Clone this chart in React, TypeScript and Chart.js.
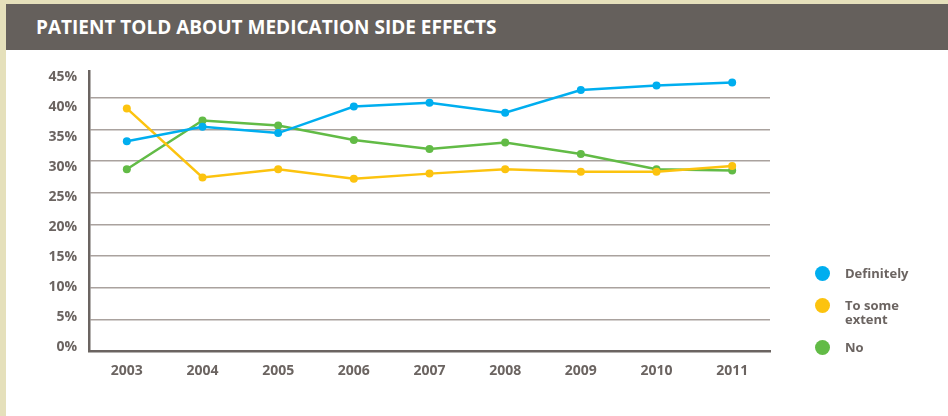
import React, { useEffect, useRef } from "react";
import { Chart, registerables } from "chart.js";

Chart.register(...registerables);

const title = "PATIENT TOLD ABOUT MEDICATION SIDE EFFECTS";
const years = ["2003", "2004", "2005", "2006", "2007", "2008", "2009", "2010", "2011"];
const definitely = [33.1, 35.4, 34.4, 38.6, 39.2, 37.6, 41.2, 41.9, 42.4];
const toSomeExtent = [38.3, 27.4, 28.7, 27.2, 28.0, 28.7, 28.3, 28.3, 29.2];
const no = [28.7, 36.4, 35.6, 33.3, 31.9, 32.9, 31.1, 28.7, 28.5];
const gridValues = [0, 5, 10, 15, 20, 25, 30, 35, 40];
const yTickLabels = [0, 5, 10, 15, 20, 25, 30, 35, 40, 45];
const seriesNames = ["Definitely", "To some extent", "No"];
const legendLines = [["Definitely"], ["To some", "extent"], ["No"]];
const seriesColors = ["#00aeef", "#fcc30f", "#62bb46"];

const TEXT = "#6b6461";
const FONT = "'Open Sans', 'DejaVu Sans', sans-serif";

export default function App() {
  const canvasRef = useRef<HTMLCanvasElement | null>(null);

  useEffect(() => {
    const ctx = canvasRef.current;
    if (!ctx) return;
    const seriesData = [definitely, toSomeExtent, no];
    const chart = new Chart(ctx, {
      type: "line",
      data: {
        labels: years,
        datasets: seriesNames.map((name, i) => ({
          label: name,
          data: seriesData[i],
          borderColor: seriesColors[i],
          backgroundColor: seriesColors[i],
          pointBackgroundColor: seriesColors[i],
          pointBorderWidth: 0,
          pointRadius: 4,
          borderWidth: 2.5,
          tension: 0,
          fill: false,
          yAxisID: "y",
        })),
      },
      options: {
        responsive: false,
        animation: false,
        devicePixelRatio: 1,
        layout: { padding: { left: 0, right: 178, top: 71, bottom: 25 } },
        plugins: {
          legend: { display: false },
          tooltip: { enabled: false },
          title: { display: false },
        },
        scales: {
          x: {
            type: "category",
            offset: true,
            grid: { display: false, drawTicks: false },
            border: { display: true, color: TEXT, width: 2.5 },
            ticks: {
              color: TEXT,
              padding: 12,
              font: { family: FONT, size: 14, weight: "bold" },
              maxRotation: 0,
            },
            afterFit: (s: any) => {
              s.height = 40;
            },
          },
          yl: {
            type: "linear",
            position: "left",
            weight: 1,
            min: -0.667,
            max: 46,
            grid: { display: false, drawTicks: false },
            border: { display: false },
            ticks: {
              color: TEXT,
              padding: 12,
              autoSkip: false,
              font: { family: FONT, size: 14, weight: "bold" },
              callback: (v: any) => v + "%",
            },
            afterBuildTicks: (s: any) => {
              s.ticks = yTickLabels.map((v) => ({ value: v }));
            },
            afterFit: (s: any) => {
              s.width = 89;
            },
          },
          y: {
            type: "linear",
            position: "left",
            weight: 0,
            min: 0,
            max: 44.2,
            grid: {
              drawTicks: false,
              lineWidth: 1.5,
              color: (c: any) => (c.tick && c.tick.value === 0 ? "rgba(0,0,0,0)" : "#aaa29e"),
            },
            border: { display: true, color: TEXT, width: 2.5 },
            ticks: { display: false },
            afterBuildTicks: (s: any) => {
              s.ticks = gridValues.map((v) => ({ value: v }));
            },
            afterFit: (s: any) => {
              s.width = 0;
            },
          },
        },
      },
    });
    return () => chart.destroy();
  }, []);

  const legendY = [273, 305, 347];
  const legendTextTop = [264, 297.5, 338];

  return (
    <div
      style={{
        position: "absolute",
        left: 0,
        top: 0,
        width: 948,
        height: 416,
        background: "#e5e0bb",
        overflow: "hidden",
        fontFamily: FONT,
      }}
    >
      <div
        style={{
          position: "absolute",
          left: 6,
          top: 4,
          right: 0,
          bottom: 0,
          background: "#ffffff",
        }}
      />
      <div
        style={{
          position: "absolute",
          left: 6,
          top: 4,
          right: 0,
          height: 46,
          background: "#65605c",
          color: "#ffffff",
          fontWeight: 700,
          fontSize: 19,
          display: "flex",
          alignItems: "center",
          paddingLeft: 30,
          boxSizing: "border-box",
          letterSpacing: 0,
        }}
      >
        {title}
      </div>
      <canvas
        ref={canvasRef}
        width={948}
        height={416}
        style={{ position: "absolute", left: 0, top: 0, width: 948, height: 416 }}
      />
      {seriesNames.map((name, i) => (
        <div key={name}>
          <div
            style={{
              position: "absolute",
              left: 822 - 7.5,
              top: legendY[i] - 7.5,
              width: 15,
              height: 15,
              borderRadius: "50%",
              background: seriesColors[i],
            }}
          />
          <div
            style={{
              position: "absolute",
              left: 845,
              top: legendTextTop[i],
              color: TEXT,
              fontWeight: 700,
              fontSize: 13,
              lineHeight: legendLines[i].length > 1 ? "14px" : "18px",
            }}
          >
            {legendLines[i].map((l) => (
              <div key={l}>{l}</div>
            ))}
          </div>
        </div>
      ))}
    </div>
  );
}
